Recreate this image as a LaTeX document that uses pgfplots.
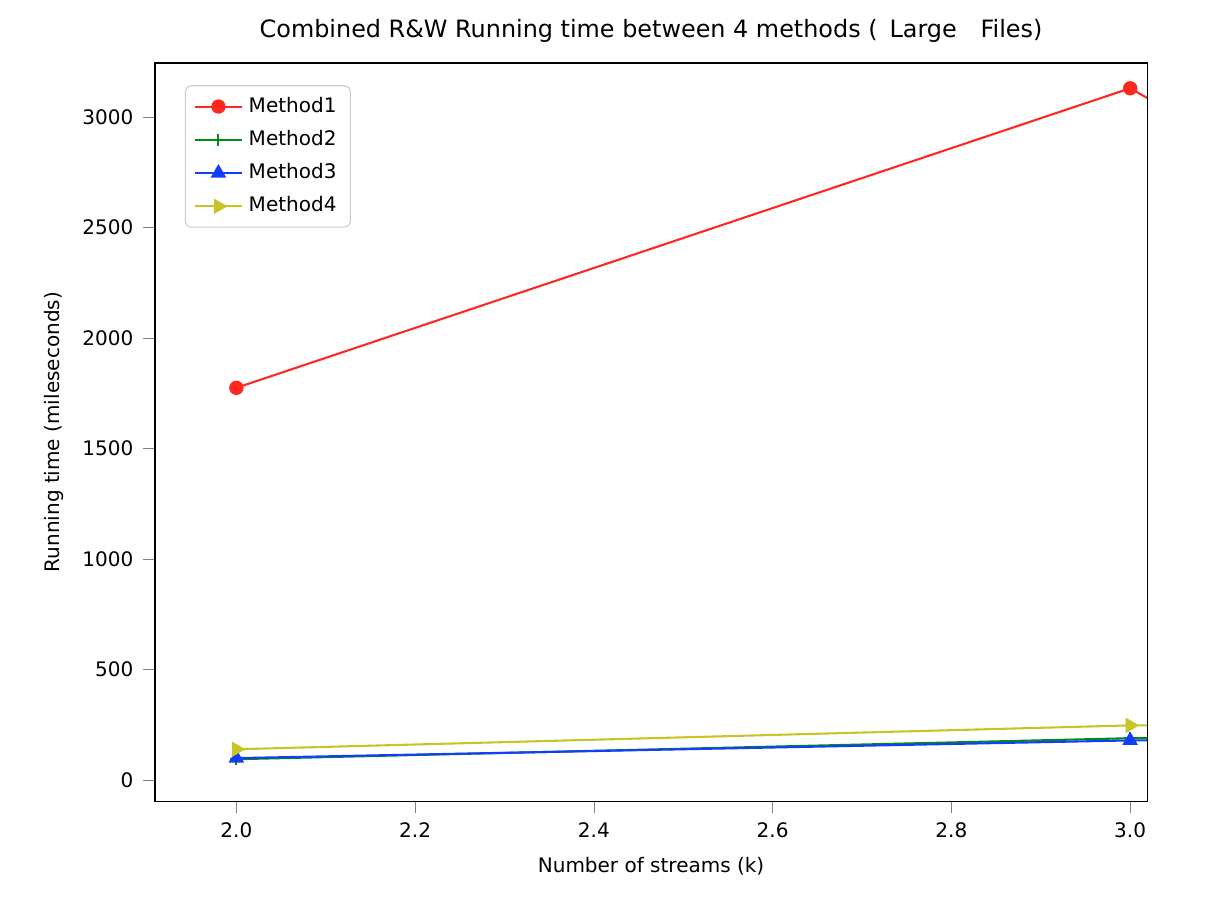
\documentclass[border=0pt]{standalone}
\usepackage{pgfplots}
\pgfplotsset{compat=1.18}
\usepackage{fontspec}
\setmainfont{DejaVu Sans}
\begin{document}
\begin{tikzpicture}
\path (-55.8pt,-35.3pt) rectangle (381.9pt,288.4pt);
\begin{axis}[
  scale only axis, width=357.1pt, height=265.7pt,
  xmin=1.909, xmax=3.019, ymin=-95, ymax=3244,
  xtick={2.0,2.2,2.4,2.6,2.8,3.0},
  xticklabel style={/pgf/number format/fixed,/pgf/number format/fixed zerofill,/pgf/number format/precision=1},
  ytick={0,500,1000,1500,2000,2500,3000},
  /pgf/number format/assume math mode=true,
  /pgf/number format/1000 sep={},
  scaled ticks=false,
  tick label style={font=\fontsize{7.2}{9}\selectfont},
  label style={font=\fontsize{7.2}{9}\selectfont},
  tick align=outside, tick pos=left,
  xlabel={Number of streams (k)},
  ylabel={Running time (mileseconds)},
  title={Combined R\&W Running time between 4 methods (\enspace Large\enspace\enspace Files)},
  title style={font=\fontsize{8.6}{10}\selectfont, yshift=-2pt},
  legend pos=north west,
  legend style={font=\fontsize{7.2}{9}\selectfont, draw=black!20, rounded corners=2pt, row sep=1pt},
  legend cell align=left,
  every axis plot/.append style={line width=0.75pt},
]
\addplot[color={rgb,255:red,255;green,40;blue,30}, mark=*, mark size=2.2pt] coordinates {(2,1775) (3,3130) (4,830)};
\addlegendentry{Method1}
\addplot[color={rgb,255:red,0;green,140;blue,20}, mark=+, mark size=2.2pt] coordinates {(2,95) (3,190) (4,200)};
\addlegendentry{Method2}
\addplot[color={rgb,255:red,20;green,60;blue,255}, mark=triangle*, mark size=2.5pt] coordinates {(2,100) (3,180) (4,190)};
\addlegendentry{Method3}
\addplot[color={rgb,255:red,200;green,195;blue,40}, mark=triangle*, mark options={rotate=-90}, mark size=2.5pt] coordinates {(2,140) (3,248) (4,240)};
\addlegendentry{Method4}
\end{axis}
\end{tikzpicture}
\end{document}
